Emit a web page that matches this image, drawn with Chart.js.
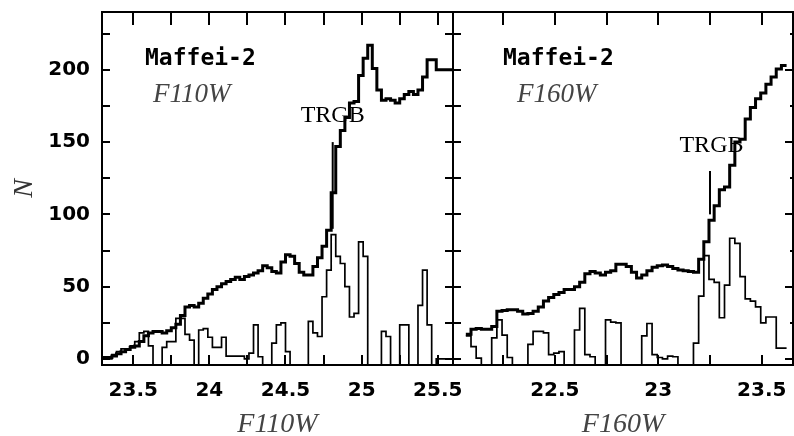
<!DOCTYPE html>
<html>
<head>
<meta charset="utf-8">
<script src="https://cdn.jsdelivr.net/npm/chart.js@4.4.1/dist/chart.umd.min.js"></script>
<style>
  html, body { margin: 0; padding: 0; background: #fff; }
  #wrap { position: relative; width: 794px; height: 436px; overflow: hidden; background: #fff; }
  canvas { position: absolute; top: 0; }
  #c1 { left: 0; }
  #c2 { left: 452px; }
</style>
</head>
<body>
<div id="wrap">
  <canvas id="c1" width="490" height="436"></canvas>
  <canvas id="c2" width="342" height="436"></canvas>
</div>
<script>
// ---- data ----
const galaxyName = 'Maffei-2';
const trgbLabel = 'TRGB';
const yTickLabels = [0, 50, 100, 150, 200];

// F110W panel: luminosity function (thick) and edge response (thin), bins of 0.03 mag from 23.30
const f110Band = 'F110W';
const f110BinStart = 23.30;
const f110BinWidth = 0.03;
const f110Counts = [
  1, 1, 2, 3.5, 5, 6.5, 8, 9, 12, 16,
  18, 19, 19, 18, 19.5, 21.5, 24, 30, 36, 37,
  36, 38.5, 42, 45, 48, 50, 52, 53.5, 55, 56.5,
  55, 57, 58, 59.5, 61, 64.5, 63, 60.5, 59.5, 67,
  72, 71, 66, 60, 58, 58, 64, 70, 78, 89,
  115, 147, 158, 167, 177, 178, 196, 208, 217, 201,
  186, 179, 180, 179, 177, 180, 183, 185, 183, 186,
  195, 207, 207, 200, 200, 200, 200
];
const f110Edge = [
  0, 0, 3, 5, 7, 6, 9, 12, 18, 19,
  9, -5, -5, 8, 12, 12, 28, 28, 17, 13,
  -5, 20, 21, 15, 8, 8, 15, 2, 2, 2,
  2, 0, 4, 23.5, 1.5, -5, -5, 11, 23.5, 25,
  5, -5, -5, -5, -5, 26, 18, 15.5, 43, 61.5,
  86, 71, 66, 50, 29, 31.5, 81, 71, -5, -5,
  -5, 19, 15.5, -5, -5, 23.5, 23.5, -5, -5, 37,
  61.5, 23.5, -5, 0, 0, 0, 0
];
const f110Trgb = 24.81;
const f110TrgbMark = [90, 150];
const f110TickLabels = [23.5, 24, 24.5, 25, 25.5];

// F160W panel, bins of 0.025 mag from 22.07
const f160Band = 'F160W';
const f160BinStart = 22.07;
const f160BinWidth = 0.025;
const f160Counts = [
  17, 20.5, 21, 20.5, 20.5, 22.5, 33, 33.5, 34, 34,
  33, 31, 31.5, 33, 36, 40, 42.5, 44.5, 46, 48,
  48, 50, 53, 59, 60.5, 59.5, 58, 60, 61, 65.5,
  65.5, 64, 60, 56, 58, 61, 63.5, 64.5, 65, 64,
  62.5, 61.5, 61, 60.5, 60, 69, 81, 96, 106, 117,
  119, 134, 150, 152, 166, 174, 180, 184, 190, 195,
  200.5, 203
];
const f160Edge = [
  16, 8.5, 0.5, -5, -5, 14.5, 27, 16.5, 1, -5,
  -5, -5, 10, 19, 19, 18, 3, 4, 5, -5,
  -5, 20, 35, 3, 1.5, -5, -5, 27, 25.5, 25,
  -5, -5, -5, -5, 16, 24.5, 3, 1, 0, 2,
  1.5, -5, -5, -5, 11, 43.5, 71.5, 55, 53, 28.5,
  51, 83.5, 80, 57, 41.5, 40, 36, 25, 29, 29,
  7.5, 7.5
];
const f160Trgb = 23.25;
const f160TrgbMark = [100, 130];
const f160TickLabels = [22.5, 23, 23.5];

// ---- helpers ----
function histPoints(start, width, vals) {
  let pts = vals.map((v, i) => ({x: start + width * i, y: v}));
  pts.push({x: start + width * vals.length, y: vals[vals.length - 1]});
  return pts;
}

function hasLabel(list, v) {
  return list.some(l => Math.abs(l - v) < 1e-6);
}

const tickFont = {family: 'DejaVu Sans', size: 20, weight: 'bold'};
const titleFont = {family: 'Liberation Serif', style: 'italic', size: 28, lineHeight: 0.8};

// inward ticks on all four sides plus the box
const frameTicks = {
  id: 'frameTicks',
  afterDatasetsDraw(chart, args, opts) {
    const {ctx, chartArea: a} = chart;
    const x = chart.scales.x, y = chart.scales.y;
    ctx.save();
    ctx.strokeStyle = '#000';
    ctx.lineWidth = 2;
    ctx.beginPath();
    x.ticks.forEach(t => {
      const px = Math.round(x.getPixelForValue(t.value));
      ctx.moveTo(px, a.bottom); ctx.lineTo(px, a.bottom - 10);
      ctx.moveTo(px, a.top); ctx.lineTo(px, a.top + 13);
    });
    y.ticks.forEach(t => {
      const py = Math.round(y.getPixelForValue(t.value));
      ctx.moveTo(a.left, py); ctx.lineTo(a.left + 8, py);
      let len = (opts.rightMinor && t.value % 50 !== 0) ? 3 : 8;
      ctx.moveTo(a.right, py); ctx.lineTo(a.right - len, py);
    });
    ctx.stroke();
    ctx.strokeRect(a.left, a.top, a.right - a.left, a.bottom - a.top);
    ctx.restore();
  }
};

const panelText = {
  id: 'panelText',
  afterDraw(chart, args, o) {
    const {ctx, chartArea: a} = chart;
    const x = chart.scales.x, y = chart.scales.y;
    ctx.save();
    ctx.textBaseline = 'alphabetic';
    ctx.fillStyle = '#000';
    ctx.font = 'bold 23px "DejaVu Sans Mono"';
    ctx.fillText(galaxyName, a.left + o.nameDx, a.top + 53);
    ctx.fillStyle = '#444';
    ctx.font = 'italic 27px "Liberation Serif"';
    ctx.fillText(o.band, a.left + o.bandDx, a.top + 90);
    ctx.fillStyle = '#000';
    ctx.font = '24px "Liberation Serif"';
    ctx.textAlign = 'center';
    ctx.fillText(trgbLabel, x.getPixelForValue(o.trgbX), y.getPixelForValue(o.trgbY));
    ctx.restore();
  }
};

function makePanel(id, cfg) {
  const ctx = document.getElementById(id).getContext('2d');
  return new Chart(ctx, {
    type: 'line',
    data: {
      datasets: [{
        data: histPoints(cfg.start, cfg.width, cfg.counts),
        borderColor: '#000',
        borderWidth: 3,
        stepped: true,
        pointRadius: 0,
        clip: 0
      }, {
        data: histPoints(cfg.start, cfg.width, cfg.edge),
        borderColor: '#000',
        borderWidth: 1.7,
        stepped: true,
        pointRadius: 0,
        clip: 0
      }, {
        data: [{x: cfg.trgb, y: cfg.trgbMark[0]}, {x: cfg.trgb, y: cfg.trgbMark[1]}],
        borderColor: '#000',
        borderWidth: 2,
        pointRadius: 0
      }]
    },
    options: {
      responsive: false,
      animation: false,
      layout: {padding: cfg.padding},
      plugins: {
        legend: {display: false},
        tooltip: {enabled: false},
        frameTicks: {rightMinor: cfg.rightMinor},
        panelText: cfg.text
      },
      scales: {
        x: {
          type: 'linear',
          min: cfg.xmin,
          max: cfg.xmax,
          afterFit: s => { s.height = 71; s.paddingLeft = 0; s.paddingRight = 0; },
          grid: {display: false, drawTicks: false},
          border: {display: false},
          ticks: {
            stepSize: 0.25,
            includeBounds: false,
            autoSkip: false,
            maxRotation: 0,
            padding: 14,
            color: '#000',
            font: tickFont,
            callback: v => hasLabel(cfg.tickLabels, v) ? String(v) : ''
          },
          title: {display: true, text: cfg.band, color: '#444', font: titleFont, padding: {top: 0, bottom: 0}}
        },
        y: {
          min: -4.2,
          max: 240,
          display: cfg.showY,
          afterFit: s => { if (cfg.showY) s.width = 102; s.paddingTop = 0; s.paddingBottom = 0; },
          grid: {display: false, drawTicks: false},
          border: {display: false},
          ticks: {
            stepSize: 25,
            includeBounds: false,
            autoSkip: false,
            padding: 12,
            color: '#000',
            font: tickFont,
            callback: v => hasLabel(yTickLabels, v) ? String(v) : ''
          },
          title: {display: true, text: 'N', color: '#333',
            font: {family: 'Liberation Serif', style: 'italic', size: 28}, padding: {top: 8}}
        }
      }
    },
    plugins: [frameTicks, panelText]
  });
}

makePanel('c1', {
  start: f110BinStart, width: f110BinWidth, counts: f110Counts, edge: f110Edge,
  trgb: f110Trgb, trgbMark: f110TrgbMark, tickLabels: f110TickLabels, band: f110Band,
  xmin: 23.295, xmax: 25.6, showY: true, rightMinor: false,
  padding: {top: 12, left: 0, right: 37, bottom: 0},
  text: {band: f110Band, nameDx: 43, bandDx: 51, trgbX: f110Trgb, trgbY: 164}
});

makePanel('c2', {
  start: f160BinStart, width: f160BinWidth, counts: f160Counts, edge: f160Edge,
  trgb: f160Trgb, trgbMark: f160TrgbMark, tickLabels: f160TickLabels, band: f160Band,
  xmin: 22.008, xmax: 23.651, showY: false, rightMinor: true,
  padding: {top: 12, left: 1, right: 1, bottom: 0},
  text: {band: f160Band, nameDx: 50, bandDx: 64, trgbX: 23.257, trgbY: 143}
});
</script>
</body>
</html>
